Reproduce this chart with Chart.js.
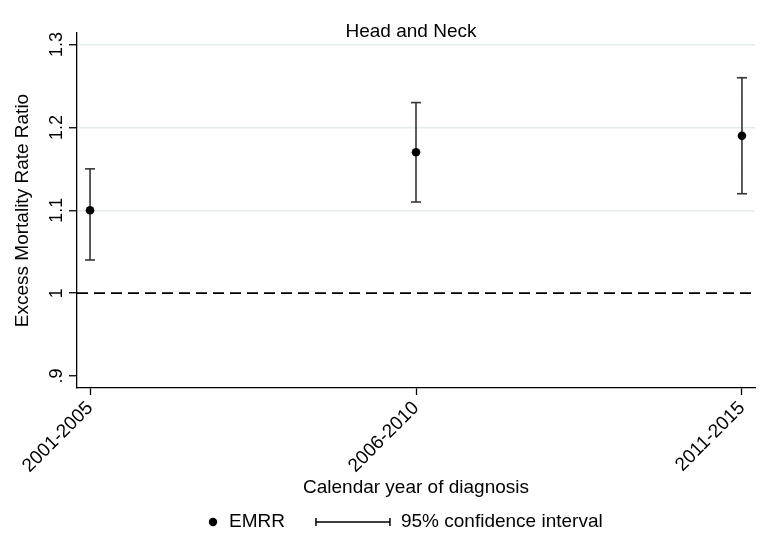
<!DOCTYPE html>
<html>
<head>
<meta charset="utf-8">
<script src="https://cdn.jsdelivr.net/npm/chart.js@4/dist/chart.umd.min.js"></script>
<style>
  html, body { margin: 0; padding: 0; background: #fff; }
  #wrap { width: 762px; height: 533px; position: relative; }
</style>
</head>
<body>
<div id="wrap"><canvas id="c" width="762" height="533"></canvas></div>
<script>
// Excess mortality rate ratio by period of diagnosis, head and neck cancer
const categories = ['2001-2005', '2006-2010', '2011-2015'];
const emrr = [1.10, 1.17, 1.19];
const ciLower = [1.04, 1.11, 1.12];
const ciUpper = [1.15, 1.23, 1.26];
const yTicks = [0.9, 1.0, 1.1, 1.2, 1.3];
const yTickLabels = ['.9', '1', '1.1', '1.2', '1.3'];
const referenceValue = 1;

const chartTitle = 'Head and Neck';
const yTitle = 'Excess Mortality Rate Ratio';
const xTitle = 'Calendar year of diagnosis';
const legendPoint = 'EMRR';
const legendCI = '95% confidence interval';

const FONT = '"Liberation Sans", Arial, sans-serif';
const BAR_COLOR = '#353535';

// category i sits at x = i + 1 on a linear axis
const pointData = emrr.map((v, i) => ({ x: i + 1, y: v }));
const ciData = [];
ciLower.forEach((lo, i) => {
  ciData.push({ x: i + 1, y: lo });
  ciData.push({ x: i + 1, y: ciUpper[i] });
  ciData.push({ x: i + 1, y: null });
});

// reference line, y tick labels (vertical), title and legend
const decorations = {
  id: 'decorations',
  beforeDatasetsDraw(chart) {
    const { ctx, chartArea, scales } = chart;
    const y = scales.y.getPixelForValue(referenceValue);
    ctx.save();
    ctx.strokeStyle = '#000';
    ctx.lineWidth = 1.8;
    ctx.setLineDash([11, 6]);
    ctx.beginPath();
    ctx.moveTo(chartArea.left, y);
    ctx.lineTo(chartArea.right, y);
    ctx.stroke();
    ctx.restore();
  },
  afterDraw(chart) {
    const { ctx, chartArea, scales } = chart;
    ctx.save();
    ctx.fillStyle = '#000';
    // y tick labels, rotated to read bottom-to-top
    ctx.font = '18px ' + FONT;
    ctx.textAlign = 'center';
    ctx.textBaseline = 'alphabetic';
    yTicks.forEach((v, i) => {
      const py = scales.y.getPixelForValue(v);
      ctx.save();
      ctx.translate(62, py);
      ctx.rotate(-Math.PI / 2);
      ctx.fillText(yTickLabels[i], 0, 0);
      ctx.restore();
    });
    // title over the plot region
    ctx.font = '19px ' + FONT;
    ctx.textAlign = 'center';
    ctx.textBaseline = 'middle';
    ctx.fillText(chartTitle, (chartArea.left + chartArea.right) / 2 - 5, 32);

    // legend
    const ly = 522;
    let lx = 209;
    ctx.beginPath();
    ctx.arc(lx + 4, ly, 4.2, 0, Math.PI * 2);
    ctx.fill();
    lx += 20;
    ctx.textAlign = 'left';
    ctx.fillText(legendPoint, lx, ly);
    lx += ctx.measureText(legendPoint).width + 31;
    ctx.strokeStyle = '#000';
    ctx.lineWidth = 1.5;
    ctx.beginPath();
    ctx.moveTo(lx, ly); ctx.lineTo(lx + 74, ly);
    ctx.moveTo(lx, ly - 4); ctx.lineTo(lx, ly + 4);
    ctx.moveTo(lx + 74, ly - 4); ctx.lineTo(lx + 74, ly + 4);
    ctx.stroke();
    lx += 85;
    ctx.fillText(legendCI, lx, ly);
    ctx.restore();
  }
};

new Chart(document.getElementById('c'), {
  type: 'scatter',
  data: {
    datasets: [
      {
        label: legendPoint,
        data: pointData,
        pointStyle: 'circle',
        pointRadius: 4.3,
        pointHoverRadius: 4.3,
        backgroundColor: '#000',
        borderColor: '#000',
        borderWidth: 0,
        showLine: false
      },
      {
        label: legendCI,
        data: ciData,
        showLine: true,
        spanGaps: false,
        borderColor: BAR_COLOR,
        borderWidth: 1.6,
        pointStyle: 'line',
        pointRadius: 5,
        pointHoverRadius: 5,
        pointBorderColor: BAR_COLOR,
        pointBorderWidth: 1.6
      }
    ]
  },
  options: {
    responsive: false,
    animation: false,
    events: [],
    layout: { padding: { top: 33, right: 7, bottom: 0, left: 0 } },
    plugins: {
      legend: { display: false },
      title: { display: false },
      tooltip: { enabled: false }
    },
    scales: {
      x: {
        type: 'linear',
        min: 0.96,
        max: 3.04,
        afterBuildTicks(scale) {
          scale.ticks = categories.map((c, i) => ({ value: i + 1 }));
        },
        afterFit(scale) { scale.height = 145; },
        ticks: {
          minRotation: 45,
          maxRotation: 45,
          padding: 2,
          color: '#000',
          font: { family: FONT, size: 19 },
          callback: (v) => categories[Math.round(v) - 1]
        },
        grid: {
          drawOnChartArea: false,
          drawTicks: true,
          tickLength: 7,
          tickColor: '#000',
          tickWidth: 1.3
        },
        border: { display: true, color: '#000', width: 1.3 },
        title: {
          display: true,
          text: xTitle,
          color: '#000',
          font: { family: FONT, size: 19 },
          padding: { top: 0, bottom: 34 }
        }
      },
      y: {
        type: 'linear',
        min: 0.8855,
        max: 1.314,
        afterBuildTicks(scale) {
          scale.ticks = yTicks.map(v => ({ value: v }));
        },
        afterFit(scale) { scale.width = 77; },
        ticks: { display: false },
        grid: {
          drawOnChartArea: true,
          drawTicks: true,
          tickLength: 8,
          tickColor: '#000',
          tickWidth: 1.3,
          lineWidth: 1.5,
          color: (ctx) => (ctx.tick && ctx.tick.value > referenceValue + 1e-9) ? '#e3ebee' : 'rgba(0,0,0,0)'
        },
        border: { display: true, color: '#000', width: 1.3 },
        title: {
          display: true,
          text: yTitle,
          color: '#000',
          font: { family: FONT, size: 19 },
          padding: { top: 11, bottom: 0 }
        }
      }
    }
  },
  plugins: [decorations]
});
</script>
</body>
</html>
